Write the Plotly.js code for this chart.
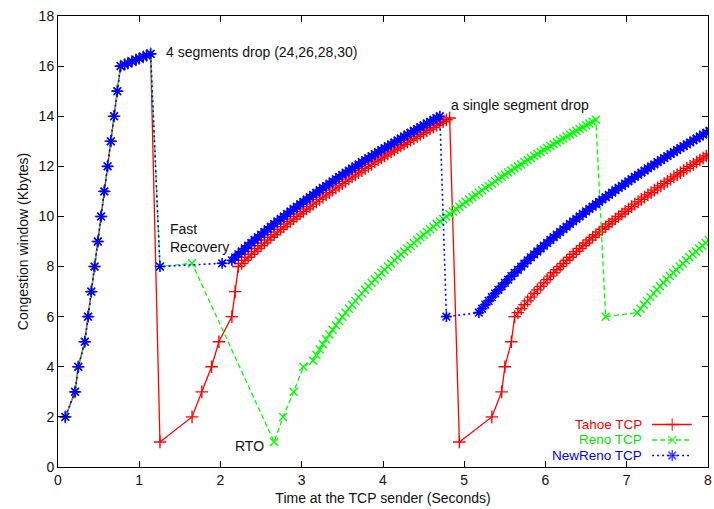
<!DOCTYPE html>
<html>
<head>
<meta charset="utf-8">
<script src="https://cdn.plot.ly/plotly-3.0.1.min.js"></script>
<style>
  html, body { margin: 0; padding: 0; background: #fff; }
  #chart { width: 714px; height: 509px; }
</style>
</head>
<body>
<div id="chart"></div>
<script>
// Shared start-up: slow start, then congestion avoidance until the losses at ~1.14 s
const startTime = [0.09, 0.21, 0.25, 0.33, 0.37, 0.41, 0.45, 0.49, 0.53, 0.57, 0.61, 0.65, 0.69, 0.73, 0.77,
  0.82, 0.86, 0.91, 0.96, 1.00, 1.05, 1.09, 1.14];
const startCwnd = [2, 3, 4, 5, 6, 7, 8, 9, 10, 11, 12, 13, 14, 15, 16,
  16.06, 16.12, 16.19, 16.25, 16.31, 16.37, 16.43, 16.49];

// Tahoe: back to 1 segment after each loss, slow start, then congestion avoidance
const tahoeTime1 = [1.255, 1.65, 1.77, 1.89, 1.98, 2.14, 2.18,
  2.22, 2.26, 2.30, 2.34, 2.38, 2.42, 2.46, 2.50, 2.54, 2.58, 2.62, 2.66, 2.70, 2.74, 2.78, 2.82, 2.86, 2.90, 2.94, 2.98,
  3.02, 3.06, 3.10, 3.14, 3.18, 3.22, 3.26, 3.30, 3.34, 3.38, 3.42, 3.46, 3.50, 3.54, 3.58, 3.62, 3.66, 3.70, 3.74, 3.78,
  3.82, 3.86, 3.90, 3.94, 3.98, 4.02, 4.06, 4.10, 4.14, 4.18, 4.22, 4.26, 4.30, 4.34, 4.38, 4.42, 4.46, 4.50, 4.54, 4.58,
  4.62, 4.66, 4.70, 4.74, 4.78, 4.82];
const tahoeCwnd1 = [1, 2, 3, 4, 5, 6, 7,
  8.00, 8.12, 8.25, 8.37, 8.49, 8.60, 8.72, 8.83, 8.94, 9.06, 9.17, 9.27, 9.38, 9.49, 9.59, 9.70, 9.80, 9.90, 10.00, 10.10,
  10.20, 10.30, 10.39, 10.49, 10.58, 10.68, 10.77, 10.86, 10.95, 11.05, 11.14, 11.22, 11.31, 11.40, 11.49, 11.58, 11.66, 11.75, 11.83, 11.92,
  12.00, 12.08, 12.17, 12.25, 12.33, 12.41, 12.49, 12.57, 12.65, 12.73, 12.81, 12.88, 12.96, 13.04, 13.11, 13.19, 13.27, 13.34, 13.42, 13.49,
  13.56, 13.64, 13.71, 13.78, 13.86, 13.93];
const tahoeTime2 = [4.94, 5.34, 5.46, 5.50, 5.58,
  5.62, 5.66, 5.70, 5.74, 5.78, 5.82, 5.86, 5.90, 5.94, 5.98, 6.02, 6.06, 6.10, 6.14, 6.18, 6.22, 6.26, 6.30, 6.34, 6.38,
  6.42, 6.46, 6.50, 6.54, 6.58, 6.62, 6.66, 6.70, 6.74, 6.78, 6.82, 6.86, 6.90, 6.94, 6.98, 7.02, 7.06, 7.10, 7.14, 7.18,
  7.22, 7.26, 7.30, 7.34, 7.38, 7.42, 7.46, 7.50, 7.54, 7.58, 7.62, 7.66, 7.70, 7.74, 7.78, 7.82, 7.86, 7.90, 7.94, 7.98, 8.02];
const tahoeCwnd2 = [1, 2, 3, 4, 5,
  6.00, 6.16, 6.32, 6.48, 6.63, 6.78, 6.93, 7.07, 7.21, 7.35, 7.48, 7.62, 7.75, 7.87, 8.00, 8.12, 8.25, 8.37, 8.49, 8.60,
  8.72, 8.83, 8.94, 9.06, 9.17, 9.27, 9.38, 9.49, 9.59, 9.70, 9.80, 9.90, 10.00, 10.10, 10.20, 10.30, 10.39, 10.49, 10.58, 10.68,
  10.77, 10.86, 10.95, 11.05, 11.14, 11.22, 11.31, 11.40, 11.49, 11.58, 11.66, 11.75, 11.83, 11.92, 12.00, 12.08, 12.17, 12.25, 12.33, 12.41, 12.49];

// Reno: fast recovery stalls on the multiple drop, falls back on a timeout (RTO)
const renoTime1 = [1.255, 1.65, 2.66, 2.77, 2.90, 3.02,
  3.14, 3.18, 3.22, 3.26, 3.30, 3.34, 3.38, 3.42, 3.46, 3.50, 3.54, 3.58, 3.62, 3.66, 3.70, 3.74, 3.78, 3.82, 3.86, 3.90,
  3.94, 3.98, 4.02, 4.06, 4.10, 4.14, 4.18, 4.22, 4.26, 4.30, 4.34, 4.38, 4.42, 4.46, 4.50, 4.54, 4.58, 4.62, 4.66, 4.70,
  4.74, 4.78, 4.82, 4.86, 4.90, 4.94, 4.98, 5.02, 5.06, 5.10, 5.14, 5.18, 5.22, 5.26, 5.30, 5.34, 5.38, 5.42, 5.46, 5.50,
  5.54, 5.58, 5.62, 5.66, 5.70, 5.74, 5.78, 5.82, 5.86, 5.90, 5.94, 5.98, 6.02, 6.06, 6.10, 6.14, 6.18, 6.22, 6.26, 6.30,
  6.34, 6.38, 6.42, 6.46, 6.50, 6.54, 6.58, 6.62];
const renoCwnd1 = [8, 8.13, 1, 2, 3, 4,
  4.24, 4.47, 4.69, 4.90, 5.10, 5.29, 5.48, 5.66, 5.83, 6.00, 6.16, 6.32, 6.48, 6.63, 6.78, 6.93, 7.07, 7.21, 7.35, 7.48,
  7.62, 7.75, 7.87, 8.00, 8.12, 8.25, 8.37, 8.49, 8.60, 8.72, 8.83, 8.94, 9.06, 9.17, 9.27, 9.38, 9.49, 9.59, 9.70, 9.80,
  9.90, 10.00, 10.10, 10.20, 10.30, 10.39, 10.49, 10.58, 10.68, 10.77, 10.86, 10.95, 11.05, 11.14, 11.22, 11.31, 11.40, 11.49, 11.58, 11.66,
  11.75, 11.83, 11.92, 12.00, 12.08, 12.17, 12.25, 12.33, 12.41, 12.49, 12.57, 12.65, 12.73, 12.81, 12.88, 12.96, 13.04, 13.11, 13.19, 13.27,
  13.34, 13.42, 13.49, 13.56, 13.64, 13.71, 13.78, 13.86];
const renoTime2 = [6.74,
  7.13, 7.17, 7.21, 7.25, 7.29, 7.33, 7.37, 7.41, 7.45, 7.49, 7.53, 7.57, 7.61, 7.65, 7.69, 7.73, 7.77, 7.81, 7.85, 7.89,
  7.93, 7.97, 8.01];
const renoCwnd2 = [6,
  6.16, 6.32, 6.48, 6.63, 6.78, 6.93, 7.07, 7.21, 7.35, 7.48, 7.62, 7.75, 7.87, 8.00, 8.12, 8.25, 8.37, 8.49, 8.60, 8.72,
  8.83, 8.94, 9.06];

// NewReno: stays in fast recovery until all lost segments are resent
const newRenoTime1 = [1.255, 2.02,
  2.14, 2.18, 2.22, 2.26, 2.30, 2.34, 2.38, 2.42, 2.46, 2.50, 2.54, 2.58, 2.62, 2.66, 2.70, 2.74, 2.78, 2.82, 2.86, 2.90,
  2.94, 2.98, 3.02, 3.06, 3.10, 3.14, 3.18, 3.22, 3.26, 3.30, 3.34, 3.38, 3.42, 3.46, 3.50, 3.54, 3.58, 3.62, 3.66, 3.70,
  3.74, 3.78, 3.82, 3.86, 3.90, 3.94, 3.98, 4.02, 4.06, 4.10, 4.14, 4.18, 4.22, 4.26, 4.30, 4.34, 4.38, 4.42, 4.46, 4.50,
  4.54, 4.58, 4.62, 4.66, 4.70];
const newRenoCwnd1 = [8, 8.13,
  8.25, 8.37, 8.49, 8.60, 8.72, 8.83, 8.94, 9.06, 9.17, 9.27, 9.38, 9.49, 9.59, 9.70, 9.80, 9.90, 10.00, 10.10, 10.20, 10.30,
  10.39, 10.49, 10.58, 10.68, 10.77, 10.86, 10.95, 11.05, 11.14, 11.22, 11.31, 11.40, 11.49, 11.58, 11.66, 11.75, 11.83, 11.92, 12.00, 12.08,
  12.17, 12.25, 12.33, 12.41, 12.49, 12.57, 12.65, 12.73, 12.81, 12.88, 12.96, 13.04, 13.11, 13.19, 13.27, 13.34, 13.42, 13.49, 13.56, 13.64,
  13.71, 13.78, 13.86, 13.93, 14.00];
const newRenoTime2 = [4.78,
  5.18, 5.22, 5.26, 5.30, 5.34, 5.38, 5.42, 5.46, 5.50, 5.54, 5.58, 5.62, 5.66, 5.70, 5.74, 5.78, 5.82, 5.86, 5.90, 5.94,
  5.98, 6.02, 6.06, 6.10, 6.14, 6.18, 6.22, 6.26, 6.30, 6.34, 6.38, 6.42, 6.46, 6.50, 6.54, 6.58, 6.62, 6.66, 6.70, 6.74,
  6.78, 6.82, 6.86, 6.90, 6.94, 6.98, 7.02, 7.06, 7.10, 7.14, 7.18, 7.22, 7.26, 7.30, 7.34, 7.38, 7.42, 7.46, 7.50, 7.54,
  7.58, 7.62, 7.66, 7.70, 7.74, 7.78, 7.82, 7.86, 7.90, 7.94, 7.98, 8.02];
const newRenoCwnd2 = [6,
  6.16, 6.32, 6.48, 6.63, 6.78, 6.93, 7.07, 7.21, 7.35, 7.48, 7.62, 7.75, 7.87, 8.00, 8.12, 8.25, 8.37, 8.49, 8.60, 8.72,
  8.83, 8.94, 9.06, 9.17, 9.27, 9.38, 9.49, 9.59, 9.70, 9.80, 9.90, 10.00, 10.10, 10.20, 10.30, 10.39, 10.49, 10.58, 10.68, 10.77,
  10.86, 10.95, 11.05, 11.14, 11.22, 11.31, 11.40, 11.49, 11.58, 11.66, 11.75, 11.83, 11.92, 12.00, 12.08, 12.17, 12.25, 12.33, 12.41, 12.49,
  12.57, 12.65, 12.73, 12.81, 12.88, 12.96, 13.04, 13.11, 13.19, 13.27, 13.34, 13.42];

const seriesNames = ['Tahoe TCP', 'Reno TCP', 'NewReno TCP'];
const seriesColors = ['#ff0000', '#00ff00', '#0000ff'];
const labelColors = ['#ff0000', '#00e600', '#0000ff'];

const FONT = 'Liberation Sans, Arial, Helvetica, sans-serif';

const styles = [
  { dash: 'solid',   width: 1.3, symbol: 'cross-thin-open', size: 9, mlw: 1.4 },
  { dash: '5px,3px', width: 1.3, symbol: 'x-thin-open',     size: 8, mlw: 1.4 },
  { dash: '2px,3px', width: 1.6, symbol: 'asterisk-open',   size: 9, mlw: 1.6 }
];

const seriesTime = [
  startTime.concat(tahoeTime1, tahoeTime2),
  startTime.concat(renoTime1, renoTime2),
  startTime.concat(newRenoTime1, newRenoTime2)
];
const seriesCwnd = [
  startCwnd.concat(tahoeCwnd1, tahoeCwnd2),
  startCwnd.concat(renoCwnd1, renoCwnd2),
  startCwnd.concat(newRenoCwnd1, newRenoCwnd2)
];

const traces = seriesNames.map((name, i) => ({
  type: 'scatter',
  mode: 'lines+markers',
  name: name,
  x: seriesTime[i],
  y: seriesCwnd[i],
  showlegend: false,
  line: { color: seriesColors[i], width: styles[i].width, dash: styles[i].dash },
  marker: {
    symbol: styles[i].symbol, size: styles[i].size, color: seriesColors[i],
    line: { color: seriesColors[i], width: styles[i].mlw }
  },
  hoverinfo: 'skip'
}));

// Key in the lower right: label, then a line sample with a point marker in the middle
const keyRows = [0.0942, 0.0599, 0.0255];
const keyX = [0.914, 0.945, 0.975];
seriesNames.forEach((name, i) => {
  traces.push({
    type: 'scatter',
    mode: 'lines+markers',
    xaxis: 'x2', yaxis: 'y2',
    x: keyX,
    y: [keyRows[i], keyRows[i], keyRows[i]],
    showlegend: false,
    line: { color: seriesColors[i], width: styles[i].width, dash: styles[i].dash },
    marker: {
      symbol: styles[i].symbol, size: [0, styles[i].size, 0], color: seriesColors[i],
      line: { color: seriesColors[i], width: styles[i].mlw }
    },
    hoverinfo: 'skip'
  });
});

const annotations = [
  { x: 1.30, y: 16.56, text: '4 segments drop (24,26,28,30)', xanchor: 'left' },
  { x: 4.81, y: 14.45, text: 'a single segment drop', xanchor: 'left' },
  { x: 1.357, y: 9.14, text: 'Fast<br>Recovery', xanchor: 'left', align: 'left' },
  { x: 2.56, y: 0.85, text: 'RTO', xanchor: 'right' }
].map(a => Object.assign({
  xref: 'x', yref: 'y', yanchor: 'middle', showarrow: false,
  font: { family: FONT, size: 14, color: '#111' }
}, a));

seriesNames.forEach((name, i) => {
  annotations.push({
    xref: 'paper', yref: 'paper', x: 0.8995, y: keyRows[i],
    xanchor: 'right', yanchor: 'middle', showarrow: false, borderpad: 0,
    text: name, font: { family: FONT, size: 13.5, color: labelColors[i] }
  });
});

const axisCommon = {
  showline: true, linecolor: '#000', linewidth: 1, mirror: 'ticks',
  ticks: 'inside', ticklen: 6, tickwidth: 1, tickcolor: '#000',
  showgrid: false, zeroline: false,
  tickfont: { family: FONT, size: 14, color: '#111' }
};

const layout = {
  width: 714, height: 509,
  margin: { l: 58, r: 6, t: 16, b: 42 },
  paper_bgcolor: '#fff', plot_bgcolor: '#fff',
  showlegend: false,
  font: { family: FONT, size: 14, color: '#111' },
  xaxis: Object.assign({}, axisCommon, {
    range: [0, 8], dtick: 1, tick0: 0,
    title: { text: 'Time at the TCP sender (Seconds)', font: { family: FONT, size: 14, color: '#111' }, standoff: 6 }
  }),
  yaxis: Object.assign({}, axisCommon, {
    range: [0, 18], dtick: 2, tick0: 0,
    title: { text: 'Congestion window (Kbytes)', font: { family: FONT, size: 14, color: '#111' }, standoff: 6 }
  }),
  xaxis2: { overlaying: 'x', range: [0, 1], visible: false, anchor: 'y2' },
  yaxis2: { overlaying: 'y', range: [0, 1], visible: false, anchor: 'x2' },
  annotations: annotations
};

Plotly.newPlot('chart', traces, layout, { staticPlot: true, displayModeBar: false });
</script>
</body>
</html>
